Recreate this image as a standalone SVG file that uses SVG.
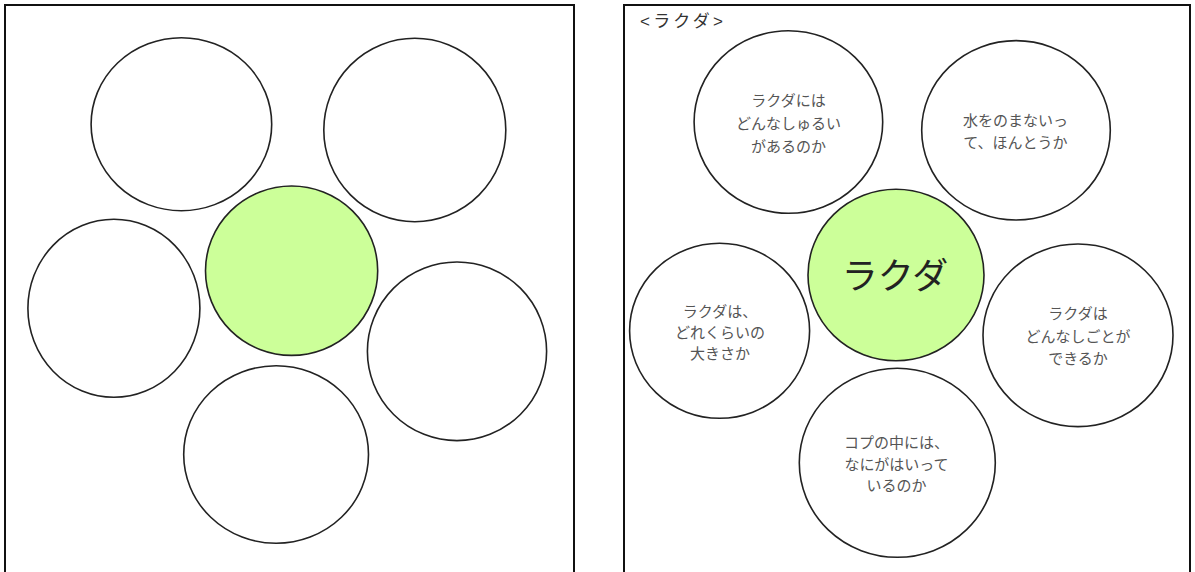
<svg xmlns="http://www.w3.org/2000/svg" width="1195" height="572" viewBox="0 0 1195 572">
<style>
.frame{fill:none;stroke:#111;stroke-width:2}
.c{fill:#fff;stroke:#222;stroke-width:1.6}
.g{fill:#ccff99;stroke:#222;stroke-width:1.6}
.t{font-family:"Liberation Sans","Noto Sans CJK JP",sans-serif;font-size:15px;fill:#555;text-anchor:middle}
.big{font-family:"Liberation Sans","Noto Sans CJK JP",sans-serif;font-size:36px;fill:#222;text-anchor:middle}
.title{font-family:"Liberation Sans","Noto Sans CJK JP",sans-serif;font-size:17px;fill:#333}
</style>
<rect width="1195" height="572" fill="#fff"/>
<g id="left-panel">
<rect class="frame" x="5" y="5" width="569" height="580"/>
<g id="l-top-left"><ellipse class="c" cx="181.4" cy="124.2" rx="90.3" ry="86.5"/></g>
<g id="l-top-right"><ellipse class="c" cx="414.8" cy="130" rx="91" ry="91.7"/></g>
<g id="l-center"><ellipse class="g" cx="291.6" cy="270.7" rx="86.1" ry="84.7"/></g>
<g id="l-mid-left"><ellipse class="c" cx="113.9" cy="308.3" rx="86" ry="89"/></g>
<g id="l-mid-right"><ellipse class="c" cx="457" cy="351.3" rx="89.6" ry="89.3"/></g>
<g id="l-bottom"><ellipse class="c" cx="276.1" cy="454.5" rx="92.4" ry="88.8"/></g>
</g>
<g id="right-panel">
<rect class="frame" x="624" y="5" width="566" height="580"/>
<text class="title" x="640" y="27" textLength="83" lengthAdjust="spacing">&lt;ラクダ&gt;</text>
<g id="r-top-left">
<ellipse class="c" cx="788.4" cy="122" rx="94.3" ry="91.3"/>
<text class="t" x="788.5" y="105.7">ラクダには</text>
<text class="t" x="788.5" y="128.7">どんなしゅるい</text>
<text class="t" x="788.5" y="151.7">があるのか</text>
</g>
<g id="r-top-right">
<ellipse class="c" cx="1016" cy="130.3" rx="94.3" ry="89.7"/>
<text class="t" x="1015.5" y="125.7">水をのまないっ</text>
<text class="t" x="1015.5" y="147.7">て、ほんとうか</text>
</g>
<g id="r-center">
<ellipse class="g" cx="896" cy="275" rx="88" ry="85.7"/>
<text class="big" x="895" y="288.7">ラクダ</text>
</g>
<g id="r-mid-left">
<ellipse class="c" cx="719.6" cy="330.8" rx="90" ry="87.5"/>
<text class="t" x="720" y="317.4">ラクダは、</text>
<text class="t" x="720" y="338">どれくらいの</text>
<text class="t" x="720" y="359">大きさか</text>
</g>
<g id="r-mid-right">
<ellipse class="c" cx="1078" cy="335.3" rx="95" ry="91.3"/>
<text class="t" x="1078" y="319">ラクダは</text>
<text class="t" x="1078" y="341.7">どんなしごとが</text>
<text class="t" x="1078" y="364">できるか</text>
</g>
<g id="r-bottom">
<ellipse class="c" cx="897.3" cy="462.8" rx="98" ry="94.5"/>
<text class="t" x="896.6" y="448">コプの中には、</text>
<text class="t" x="896.6" y="469.7">なにがはいって</text>
<text class="t" x="896.6" y="491.4">いるのか</text>
</g>
</g>
<g id="connectors"/>
</svg>
